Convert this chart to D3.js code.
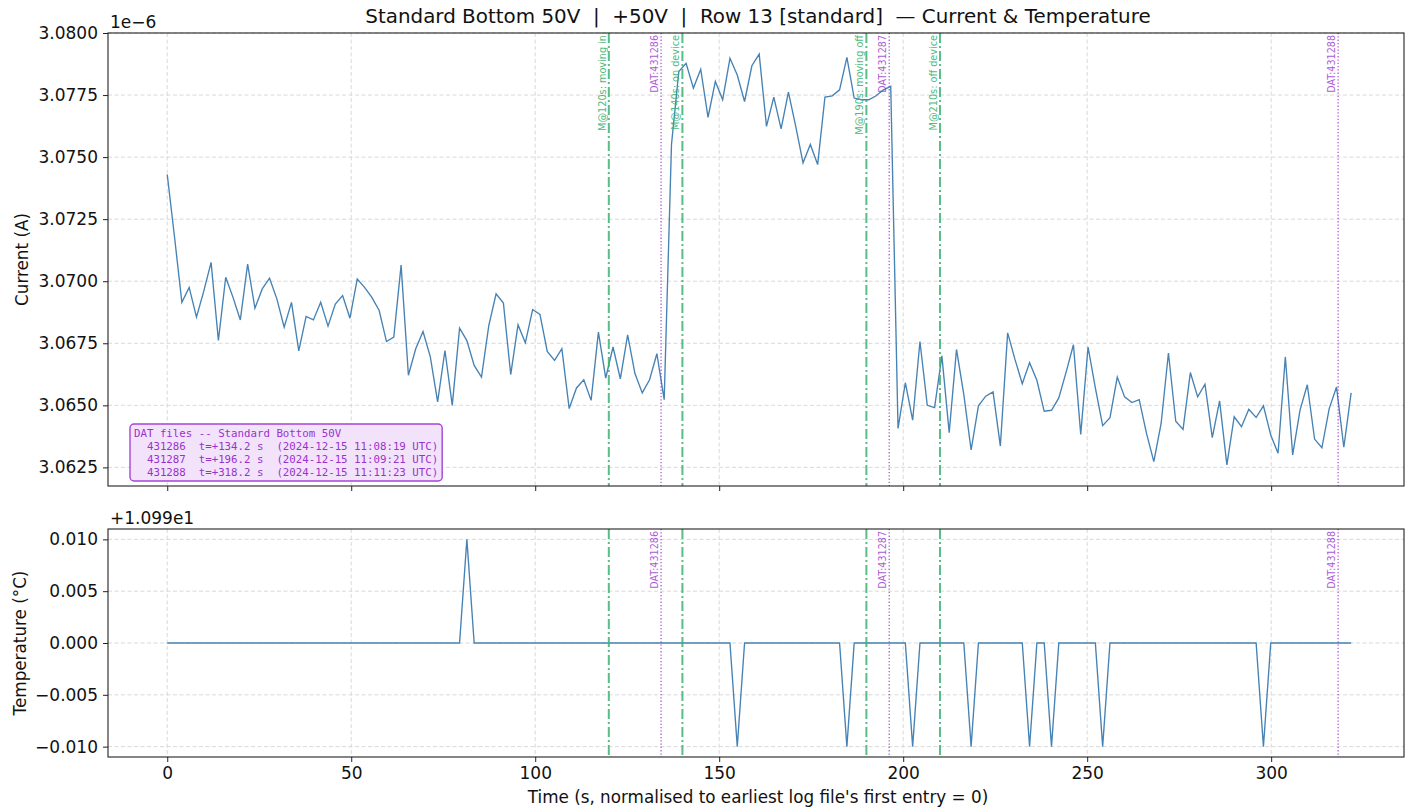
<!DOCTYPE html>
<html>
<head>
<meta charset="utf-8">
<script src="https://cdn.jsdelivr.net/npm/d3@7"></script>
<style>
  body { margin: 0; background: #fff; }
  svg { display: block; font-family: "DejaVu Sans", sans-serif; }
</style>
</head>
<body>
<svg id="chart" width="1405" height="808"></svg>
<script>
// current samples, in units of 1e-6 A (one sample every ~2 s)
const current = [
    3.07430, 3.07177, 3.06915, 3.06975, 3.06855, 3.06960, 3.07076, 3.06761, 3.07016, 3.06935,
    3.06844, 3.07069, 3.06891, 3.06969, 3.07012, 3.06929, 3.06815, 3.06915, 3.06719, 3.06858,
    3.06844, 3.06915, 3.06819, 3.06908, 3.06942, 3.06851, 3.07009, 3.06975, 3.06935, 3.06882,
    3.06757, 3.06775, 3.07065, 3.06621, 3.06728, 3.06797, 3.06695, 3.06514, 3.06721, 3.06500,
    3.06811, 3.06761, 3.06661, 3.06614, 3.06821, 3.06949, 3.06912, 3.06624, 3.06824, 3.06752,
    3.06886, 3.06866, 3.06717, 3.06681, 3.06728, 3.06487, 3.06570, 3.06603, 3.06520, 3.06795,
    3.06610, 3.06735, 3.06607, 3.06784, 3.06628, 3.06550, 3.06603, 3.06708, 3.06523, 3.07551,
    3.07845, 3.07878, 3.07778, 3.07854, 3.07660, 3.07805, 3.07731, 3.07898, 3.07831, 3.07724,
    3.07868, 3.07915, 3.07624, 3.07742, 3.07614, 3.07762, 3.07624, 3.07477, 3.07551, 3.07470,
    3.07742, 3.07747, 3.07771, 3.07902, 3.07738, 3.07731, 3.07731, 3.07747, 3.07771, 3.07785,
    3.06407, 3.06591, 3.06440, 3.06757, 3.06500, 3.06491, 3.06699, 3.06390, 3.06725, 3.06543,
    3.06320, 3.06498, 3.06537, 3.06554, 3.06336, 3.06792, 3.06685, 3.06587, 3.06672, 3.06601,
    3.06476, 3.06480, 3.06530, 3.06634, 3.06744, 3.06383, 3.06735, 3.06570, 3.06418, 3.06450,
    3.06614, 3.06534, 3.06511, 3.06523, 3.06387, 3.06273, 3.06427, 3.06711, 3.06436, 3.06403,
    3.06632, 3.06534, 3.06585, 3.06370, 3.06518, 3.06260, 3.06454, 3.06414, 3.06484, 3.06451,
    3.06498, 3.06380, 3.06307, 3.06695, 3.06300, 3.06480, 3.06583, 3.06364, 3.06329, 3.06487,
    3.06574, 3.06331, 3.06550
];

// temperature samples (°C), same timestamps
const temperature = [
    10.99, 10.99, 10.99, 10.99, 10.99, 10.99, 10.99, 10.99, 10.99, 10.99,
    10.99, 10.99, 10.99, 10.99, 10.99, 10.99, 10.99, 10.99, 10.99, 10.99,
    10.99, 10.99, 10.99, 10.99, 10.99, 10.99, 10.99, 10.99, 10.99, 10.99,
    10.99, 10.99, 10.99, 10.99, 10.99, 10.99, 10.99, 10.99, 10.99, 10.99,
    10.99, 11.00, 10.99, 10.99, 10.99, 10.99, 10.99, 10.99, 10.99, 10.99,
    10.99, 10.99, 10.99, 10.99, 10.99, 10.99, 10.99, 10.99, 10.99, 10.99,
    10.99, 10.99, 10.99, 10.99, 10.99, 10.99, 10.99, 10.99, 10.99, 10.99,
    10.99, 10.99, 10.99, 10.99, 10.99, 10.99, 10.99, 10.99, 10.98, 10.99,
    10.99, 10.99, 10.99, 10.99, 10.99, 10.99, 10.99, 10.99, 10.99, 10.99,
    10.99, 10.99, 10.99, 10.98, 10.99, 10.99, 10.99, 10.99, 10.99, 10.99,
    10.99, 10.99, 10.98, 10.99, 10.99, 10.99, 10.99, 10.99, 10.99, 10.99,
    10.98, 10.99, 10.99, 10.99, 10.99, 10.99, 10.99, 10.99, 10.98, 10.99,
    10.99, 10.98, 10.99, 10.99, 10.99, 10.99, 10.99, 10.99, 10.98, 10.99,
    10.99, 10.99, 10.99, 10.99, 10.99, 10.99, 10.99, 10.99, 10.99, 10.99,
    10.99, 10.99, 10.99, 10.99, 10.99, 10.99, 10.99, 10.99, 10.99, 10.99,
    10.98, 10.99, 10.99, 10.99, 10.99, 10.99, 10.99, 10.99, 10.99, 10.99,
    10.99, 10.99, 10.99
];

const sampleStep = 1.986;   // seconds between log entries
const tempOffset = 10.99;

// motion markers
const markerTimes = [120, 140, 190, 210];
const markerLabels = ["M@120s: moving in", "M@140s: on device", "M@190s: moving off", "M@210s: off device"];

// DAT file markers
const datIds = ["431286", "431287", "431288"];
const datTimes = [134.2, 196.2, 318.2];
const datStamps = ["2024-12-15 11:08:19 UTC", "2024-12-15 11:09:21 UTC", "2024-12-15 11:11:23 UTC"];

const xTicks = [0, 50, 100, 150, 200, 250, 300];
const currentTicks = [3.0625, 3.0650, 3.0675, 3.0700, 3.0725, 3.0750, 3.0775, 3.0800];
const tempTicks = [-0.010, -0.005, 0.000, 0.005, 0.010];

const title = "Standard Bottom 50V  |  +50V  |  Row 13 [standard]  \u2014 Current & Temperature";

const colors = {
    line: "#4682b4",
    marker: "#3cb371",
    dat: "#9932cc",
    grid: "#cfcfcf",
    spine: "#222"
};

const svg = d3.select("#chart");
const left = 108, right = 1404;
const top1 = { y0: 33, y1: 486 };
const bot1 = { y0: 529, y1: 757 };
const fs = "17px";

const data = current.map((c, i) => ({ t: i * sampleStep, c: c, temp: temperature[i] - tempOffset }));

const x = d3.scaleLinear([-16.1, 336.1], [left, right]);
const yC = d3.scaleLinear([3.06175, 3.0800], [top1.y1, top1.y0]);
const yT = d3.scaleLinear([-0.011, 0.011], [bot1.y1, bot1.y0]);

const panel = (box, yScale, yTicks, fmt, showX) => {
    const g = svg.append("g");

    // grid
    g.append("g").selectAll("line").data(xTicks).join("line")
        .attr("x1", d => x(d)).attr("x2", d => x(d))
        .attr("y1", box.y0).attr("y2", box.y1)
        .attr("stroke", colors.grid).attr("stroke-width", 0.8).attr("stroke-dasharray", "4,2.5");
    g.append("g").selectAll("line").data(yTicks).join("line")
        .attr("x1", left).attr("x2", right)
        .attr("y1", d => yScale(d)).attr("y2", d => yScale(d))
        .attr("stroke", colors.grid).attr("stroke-width", 0.8).attr("stroke-dasharray", "4,2.5");

    // axes
    const ya = g.append("g").attr("transform", `translate(${left},0)`)
        .call(d3.axisLeft(yScale).tickValues(yTicks).tickFormat(d3.format(fmt)).tickSize(5).tickPadding(5));
    const xa = g.append("g").attr("transform", `translate(0,${box.y1})`)
        .call(d3.axisBottom(x).tickValues(xTicks).tickFormat(showX ? d3.format("d") : "").tickSize(5).tickPadding(5));
    [ya, xa].forEach(a => {
        a.select(".domain").remove();
        a.selectAll("line").attr("stroke", colors.spine).attr("stroke-width", 1);
        a.selectAll("text").attr("fill", "#111").style("font-size", fs).style("font-family", "DejaVu Sans");
    });

    return g;
};

const gTop = panel(top1, yC, currentTicks, ".4f", false);
const gBot = panel(bot1, yT, tempTicks, ".3f", true);

// clip paths
[["clipTop", top1], ["clipBot", bot1]].forEach(([id, b]) => {
    svg.append("clipPath").attr("id", id).append("rect")
        .attr("x", left).attr("y", b.y0).attr("width", right - left).attr("height", b.y1 - b.y0);
});

const vlines = (g, box, clip, withMarkerText) => {
    const v = g.append("g").attr("clip-path", `url(#${clip})`);
    v.selectAll("line.m").data(markerTimes).join("line").attr("class", "m")
        .attr("x1", d => x(d)).attr("x2", d => x(d))
        .attr("y1", box.y0).attr("y2", box.y1)
        .attr("stroke", colors.marker).attr("stroke-width", 2).attr("opacity", 0.85)
        .attr("stroke-dasharray", "10,3,2,3");
    v.selectAll("line.d").data(datTimes).join("line").attr("class", "d")
        .attr("x1", d => x(d)).attr("x2", d => x(d))
        .attr("y1", box.y0).attr("y2", box.y1)
        .attr("stroke", colors.dat).attr("stroke-width", 1.3).attr("opacity", 0.8)
        .attr("stroke-dasharray", "1.3,2");

    if (withMarkerText) {
        g.append("g").selectAll("text").data(markerTimes).join("text")
            .attr("transform", d => `translate(${x(d) - 3},${box.y0 + 2}) rotate(-90)`)
            .attr("text-anchor", "end")
            .attr("fill", colors.marker).attr("opacity", 0.9)
            .style("font-size", "9.7px")
            .text((d, i) => markerLabels[i]);
    }
    g.append("g").selectAll("text").data(datTimes).join("text")
        .attr("transform", d => `translate(${x(d) - 3},${box.y0 + 2}) rotate(-90)`)
        .attr("text-anchor", "end")
        .attr("fill", colors.dat).attr("opacity", 0.8)
        .style("font-size", "9.6px")
        .text((d, i) => `DAT:${datIds[i]}`);
};

// series
gTop.append("path").datum(data)
    .attr("clip-path", "url(#clipTop)")
    .attr("fill", "none").attr("stroke", colors.line).attr("stroke-width", 1.35)
    .attr("d", d3.line().x(d => x(d.t)).y(d => yC(d.c)));
gBot.append("path").datum(data)
    .attr("clip-path", "url(#clipBot)")
    .attr("fill", "none").attr("stroke", colors.line).attr("stroke-width", 1.35)
    .attr("d", d3.line().x(d => x(d.t)).y(d => yT(d.temp)));

vlines(gTop, top1, "clipTop", true);
vlines(gBot, bot1, "clipBot", false);

// spines
[top1, bot1].forEach(b => {
    svg.append("rect").attr("x", left).attr("y", b.y0)
        .attr("width", right - left).attr("height", b.y1 - b.y0)
        .attr("fill", "none").attr("stroke", colors.spine).attr("stroke-width", 1.1);
});

// DAT info box
const boxLines = ["DAT files -- Standard Bottom 50V"].concat(
    datIds.map((id, i) => `  ${id}  t=+${datTimes[i].toFixed(1)} s  (${datStamps[i]})`)
);
const info = svg.append("g");
const infoRect = info.append("rect");
const infoText = info.append("text")
    .attr("fill", colors.dat)
    .style("font-family", "DejaVu Sans Mono")
    .style("font-size", "10.75px")
    .style("white-space", "pre");
boxLines.forEach((l, i) => {
    infoText.append("tspan").attr("x", 134).attr("y", 437 + i * 13).text(l);
});
const bb = infoText.node().getBBox();
infoRect.attr("x", 130).attr("y", 424)
    .attr("width", bb.x + bb.width + 4 - 130).attr("height", 57)
    .attr("rx", 4)
    .attr("fill", "#f2e3fa").attr("stroke", "#a545d6").attr("stroke-width", 1.4);

// titles and labels
svg.append("text").attr("x", (left + right) / 2 + 2).attr("y", 23)
    .attr("text-anchor", "middle").style("font-size", "19.9px").style("white-space", "pre")
    .attr("fill", "#111").text(title);

svg.append("text").attr("x", left + 2).attr("y", 28)
    .style("font-size", fs).attr("fill", "#111").text("1e\u22126");
svg.append("text").attr("x", left + 2).attr("y", 524)
    .style("font-size", fs).attr("fill", "#111").text("+1.099e1");

svg.append("text")
    .attr("transform", `translate(28,${(top1.y0 + top1.y1) / 2}) rotate(-90)`)
    .attr("text-anchor", "middle").style("font-size", "16.8px").attr("fill", "#111")
    .text("Current (A)");
svg.append("text")
    .attr("transform", `translate(26,${(bot1.y0 + bot1.y1) / 2}) rotate(-90)`)
    .attr("text-anchor", "middle").style("font-size", "16.8px").attr("fill", "#111")
    .text("Temperature (\u00b0C)");
svg.append("text").attr("x", (left + right) / 2 + 2).attr("y", 803)
    .attr("text-anchor", "middle").style("font-size", "16.8px").attr("fill", "#111")
    .text("Time (s, normalised to earliest log file's first entry = 0)");
</script>
</body>
</html>
